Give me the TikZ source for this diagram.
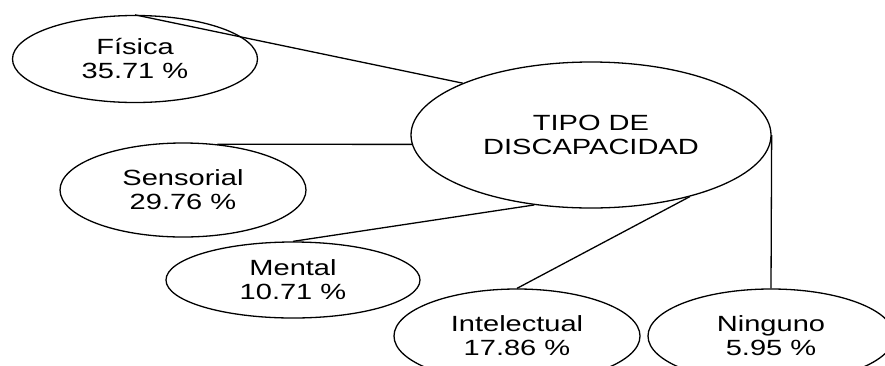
\documentclass[tikz,border=0pt]{standalone}
\usepackage{fontspec}
\setmainfont{Liberation Sans}[FakeStretch=1.32]
\usetikzlibrary{shapes.geometric}
\begin{document}
\begin{tikzpicture}[
x=1pt, y=-1pt,
every node/.style={draw, ellipse, line width=1.3pt, inner sep=0pt, align=center, font=\fontsize{22}{24}\selectfont},
link/.style={line width=1.3pt}
]
\useasboundingbox (0,0) rectangle (885,365);
\clip (0,0) rectangle (885,365);
\node (tipo) [minimum width=360pt, minimum height=146pt] at (591,135) {TIPO DE\\DISCAPACIDAD};
\node (fisica) [minimum width=245pt, minimum height=87pt] at (135,59) {Física\\35.71 \%};
\node (sensorial) [minimum width=246pt, minimum height=94pt] at (183,190) {Sensorial\\29.76 \%};
\node (mental) [minimum width=254pt, minimum height=76pt] at (293,280) {Mental\\10.71 \%};
\node (intelectual) [minimum width=246pt, minimum height=94pt] at (517,336) {Intelectual\\17.86 \%};
\node (ninguno) [minimum width=246pt, minimum height=94pt] at (771,336) {Ninguno\\5.95 \%};
\draw[link] (fisica.north) -- (tipo.158);
\draw[link] (sensorial.53) -- (tipo.183);
\draw[link] (mental.north) -- (tipo.231);
\draw[link] (intelectual.north) -- (tipo.-32);
\draw[link] (ninguno.north) -- (tipo.east);
\end{tikzpicture}
\end{document}
